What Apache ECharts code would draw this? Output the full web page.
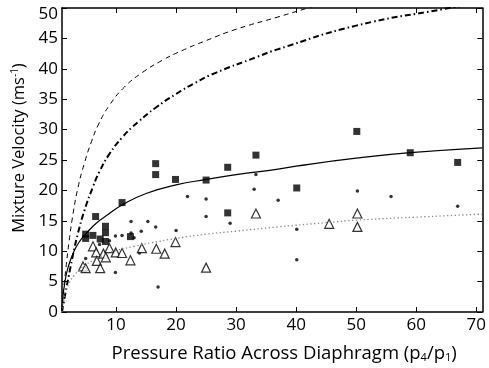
<!DOCTYPE html>
<html>
<head>
<meta charset="utf-8">
<script src="https://cdn.jsdelivr.net/npm/echarts@6/dist/echarts.min.js"></script>
<style>
  html, body { margin: 0; padding: 0; background: #fff; }
  #chart { width: 489px; height: 368px; }
</style>
</head>
<body>
<div id="chart"></div>
<script>
// measured points (filled squares, small dots, open triangles)
const squares = [
  [4.94, 12.8], [4.94, 12.1], [6.14, 12.6], [6.6, 15.7], [7.36, 12.0],
  [8.24, 14.1], [8.24, 13.05], [8.24, 11.6], [11.0, 18.0], [12.4, 12.4],
  [16.6, 24.4], [16.6, 22.6], [19.9, 21.8], [25.0, 21.7], [28.6, 23.8],
  [28.6, 16.3], [33.3, 25.8], [40.1, 20.4], [50.1, 29.7], [59.0, 26.2],
  [66.9, 24.6]
];
const dots = [
  [4.94, 8.8], [4.9, 6.7], [7.25, 11.1], [8.9, 11.7], [9.9, 12.5],
  [9.9, 6.5], [11.0, 12.6], [12.5, 14.9], [12.5, 13.0], [13.0, 12.2],
  [13.9, 9.7], [14.2, 13.3], [15.3, 14.9], [16.6, 14.0], [17.0, 4.1],
  [20.0, 13.4], [21.9, 19.0], [25.0, 18.6], [25.0, 15.7], [29.0, 14.6],
  [33.0, 20.2], [33.3, 22.6], [37.0, 18.4], [40.1, 13.6], [40.1, 8.6],
  [50.2, 19.9], [55.8, 19.0], [66.9, 17.4]
];
const triangles = [
  [4.5, 7.5], [4.94, 7.2], [6.16, 10.8], [6.7, 9.8], [6.8, 8.4],
  [7.36, 7.2], [7.9, 9.6], [8.3, 9.0], [8.9, 10.5], [9.95, 9.8],
  [11.0, 9.7], [12.4, 8.5], [14.3, 10.5], [16.7, 10.4], [18.1, 9.6],
  [19.9, 11.5], [25.0, 7.3], [33.3, 16.2], [45.5, 14.5], [50.2, 16.2],
  [50.2, 14.0]
];

// curves
const dashedCurve = [
  [1, 0], [1.2, 3], [1.63, 7], [2.18, 11.6], [2.85, 16.2], [3.67, 20.5],
  [4.77, 24.6], [5.9, 28], [7.1, 30.9], [8.9, 34], [11.4, 37], [14.4, 39.4],
  [17.7, 41.4], [21, 43], [24.9, 44.6], [30, 46.5], [36.9, 48.5], [42, 50],
  [50, 52.2], [60, 54.5], [71, 56.6]
];
const dashDotCurve = [
  [1, 0], [1.47, 2.6], [2.3, 6.8], [2.85, 9.5], [3.67, 13], [4.77, 16.8],
  [6.16, 20.6], [7.24, 23.1], [8.9, 26], [11.1, 28.8], [13.6, 31.2],
  [16.6, 33.6], [19.9, 35.8], [23.2, 37.7], [26.5, 39.3], [33.6, 42],
  [36.9, 43.2], [50, 47.1], [64.4, 49.8], [71, 50.9]
];
const solidCurve = [
  [1, 0], [1.1, 2], [1.45, 4.7], [2, 7.3], [3, 10], [4, 11.7], [5, 12.9],
  [6.7, 14.6], [8.6, 16], [11, 17.6], [15, 19.5], [20, 20.9], [25, 21.8],
  [30, 22.6], [37, 23.5], [40, 24], [50, 25.3], [59, 26.2], [71, 27]
];
const dottedCurve = [
  [1, 0], [1.3, 2], [1.7, 3.7], [2.3, 5], [3, 6], [4, 7], [5, 7.8], [6, 8.4],
  [8, 9.4], [10, 10.1], [13, 10.8], [16, 11.4], [20, 12.1], [25, 12.8],
  [30, 13.3], [37, 14], [45, 14.7], [50, 15.1], [60, 15.6], [71, 16.1]
];

const xTicks = [10, 20, 30, 40, 50, 60, 70];

const font = 'Open Sans';
const chart = echarts.init(document.getElementById('chart'));

const boxAxis = (extra) => Object.assign({
  type: 'value',
  axisLine: { show: true, onZero: false, lineStyle: { color: '#000', width: 1.5 } },
  axisTick: { show: true, inside: true, length: 5, lineStyle: { color: '#000', width: 1 } },
  splitLine: { show: false }
}, extra);

const curve = (data, lineStyle) => ({
  type: 'line', data: data, smooth: true,
  symbol: 'none', clip: true, lineStyle: lineStyle
});

chart.setOption({
  animation: false,
  backgroundColor: '#fff',
  grid: { left: 62, right: 4, top: 8, bottom: 49 },
  xAxis: [
    boxAxis({
      min: 1, max: 71,
      name: 'Pressure Ratio Across Diaphragm (p{s|4}/p{s|1})',
      nameLocation: 'middle', nameGap: 32,
      nameTextStyle: {
        fontFamily: font, fontSize: 18.5, color: '#000', padding: [0, 0, 0, 24],
        rich: { s: { fontFamily: font, fontSize: 11, verticalAlign: 'bottom', padding: [8, 0, 0, 0] } }
      },
      axisTick: { show: true, inside: true, length: 5, customValues: xTicks, lineStyle: { color: '#000' } },
      axisLabel: { customValues: xTicks, fontFamily: font, fontSize: 17, color: '#000', margin: 5 }
    }),
    boxAxis({
      min: 1, max: 71, position: 'top',
      axisTick: { show: true, inside: true, length: 5, customValues: xTicks, lineStyle: { color: '#000' } },
      axisLabel: { show: false }
    })
  ],
  yAxis: [
    boxAxis({
      min: 0, max: 50, interval: 5,
      name: 'Mixture Velocity (ms{s|-1})',
      nameLocation: 'middle', nameGap: 28,
      nameTextStyle: {
        fontFamily: font, fontSize: 16.5, color: '#000', padding: [0, 0, 0, 24],
        rich: { s: { fontFamily: font, fontSize: 10, verticalAlign: 'top', padding: [0, 0, 8, 0] } }
      },
      axisLabel: {
        fontFamily: font, fontSize: 17, color: '#000', margin: 4, showMaxLabel: true,
        formatter: v => v === 50 ? '{t|50}' : String(v),
        rich: { t: { fontFamily: font, fontSize: 17, color: '#000', padding: [12, 0, 0, 0] } }
      }
    }),
    boxAxis({
      min: 0, max: 50, interval: 5, position: 'right',
      axisLabel: { show: false }
    })
  ],
  series: [
    curve(dashedCurve, { color: '#000', width: 1, type: [5, 4] }),
    curve(dashDotCurve, { color: '#000', width: 2, type: [6, 3, 1.5, 3] }),
    curve(solidCurve, { color: '#000', width: 1.2 }),
    curve(dottedCurve, { color: '#888', width: 1.3, type: [1.3, 2.5] }),
    {
      type: 'scatter', data: dots, symbol: 'circle', symbolSize: 3.5,
      itemStyle: { color: '#000' }
    },
    {
      type: 'scatter', data: squares, symbol: 'rect', symbolSize: 7,
      itemStyle: { color: '#000' }
    },
    {
      type: 'scatter', data: triangles, symbol: 'triangle', symbolSize: 9,
      itemStyle: { color: '#fff', borderColor: '#000', borderWidth: 1.2 }
    }
  ]
});
</script>
</body>
</html>
